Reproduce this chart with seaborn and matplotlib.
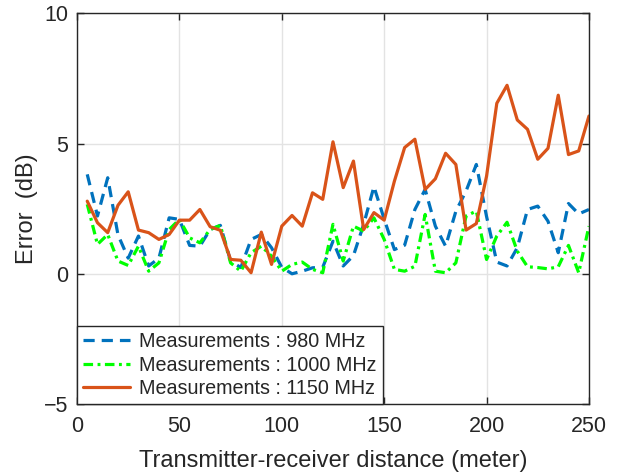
import numpy as np
import pandas as pd
import matplotlib
matplotlib.use('Agg')
import matplotlib.pyplot as plt
import seaborn as sns

# distance (meter)
distance = list(range(5, 255, 5))

# error (dB)
err_980 = [3.82, 2.22, 3.69, 1.5, 0.6, 1.45, 0.3, 0.6, 2.15, 2.09,
           1.09, 1.06, 1.7, 1.86, 0.49, 0.24, 1.32, 1.51, 1.0, 0.25,
           0.0, 0.1, 0.23, 0.25, 1.25, 0.3, 0.7, 1.9, 3.35, 2.1,
           0.93, 1.1, 2.47, 3.24, 1.83, 1.06, 2.4, 3.18, 4.2, 2.2,
           0.45, 0.3, 1.0, 2.47, 2.6, 2.02, 0.81, 2.7, 2.3, 2.47]
err_1000 = [2.67, 1.13, 1.51, 0.49, 0.32, 1.06, 0.1, 0.42, 1.7, 2.09,
            1.38, 1.19, 1.7, 1.86, 0.42, 0.1, 0.81, 1.06, 0.68, 0.1,
            0.36, 0.45, 0.17, 0.04, 1.9, 0.49, 1.83, 1.64, 2.15, 1.32,
            0.17, 0.1, 0.29, 2.28, 0.1, 0.04, 0.42, 2.22, 2.41, 0.55,
            1.45, 1.98, 0.87, 0.27, 0.24, 0.19, 0.27, 1.09, 0.04, 1.83]
err_1150 = [2.79, 1.96, 1.58, 2.63, 3.15, 1.68, 1.58, 1.32, 1.51, 2.06,
            2.06, 2.47, 1.81, 1.67, 0.55, 0.52, 0.04, 1.6, 0.36, 1.83,
            2.24, 1.83, 3.11, 2.86, 5.07, 3.31, 4.33, 1.7, 2.35, 2.06,
            3.56, 4.85, 5.17, 3.24, 3.65, 4.63, 4.2, 1.68, 1.93, 3.75,
            6.55, 7.24, 5.91, 5.55, 4.4, 4.82, 6.86, 4.58, 4.72, 6.06]

labels = ['Measurements : 980 MHz', 'Measurements : 1000 MHz', 'Measurements : 1150 MHz']

df = pd.DataFrame({'distance': distance, '980': err_980, '1000': err_1000, '1150': err_1150})

sns.set_style('white')
plt.rcParams['font.family'] = ['Liberation Sans', 'DejaVu Sans']

fig = plt.figure(figsize=(6.18, 4.73), dpi=100)
ax = fig.add_axes([0.1246, 0.146, 0.8284, 0.8255])

sns.lineplot(data=df, x='distance', y='980', ax=ax, color='#0072BD', lw=2.3,
             label=labels[0])
ax.lines[-1].set_dashes((3.5, 2.2))
sns.lineplot(data=df, x='distance', y='1000', ax=ax, color='#00FF00', lw=2.3,
             label=labels[1])
ax.lines[-1].set_dashes((3, 1.4, 0.9, 1.4))
sns.lineplot(data=df, x='distance', y='1150', ax=ax, color='#D95319', lw=2.3,
             label=labels[2])

ax.set_xlim(0, 250)
ax.set_ylim(-5, 10)
ax.set_xticks([0, 50, 100, 150, 200, 250])
ax.set_yticks([-5, 0, 5, 10])
ax.grid(True, color='#e3e3e3', lw=1)
ax.set_axisbelow(True)
for s in ax.spines.values():
    s.set_color('#262626')
    s.set_linewidth(1)
ax.tick_params(direction='in', length=5, width=1, colors='#262626', labelsize=15.5,
               left=True, bottom=True, right=True, top=True, labelcolor='#262626')
ax.tick_params(axis='x', pad=9)
ax.tick_params(axis='y', pad=6.5)
ax.set_xlabel('Transmitter-receiver distance (meter)', fontsize=17, color='#262626', labelpad=9)
ax.set_ylabel('Error  (dB)', fontsize=17, color='#262626', labelpad=4)

leg = ax.legend(loc='lower left', fontsize=14.2, frameon=True, fancybox=False,
                framealpha=1, edgecolor='#262626', handlelength=2.4,
                borderaxespad=0, borderpad=0.3, labelspacing=0.22, handletextpad=0.45)
leg.get_frame().set_linewidth(1)

fig.savefig('out.png', dpi=100)
